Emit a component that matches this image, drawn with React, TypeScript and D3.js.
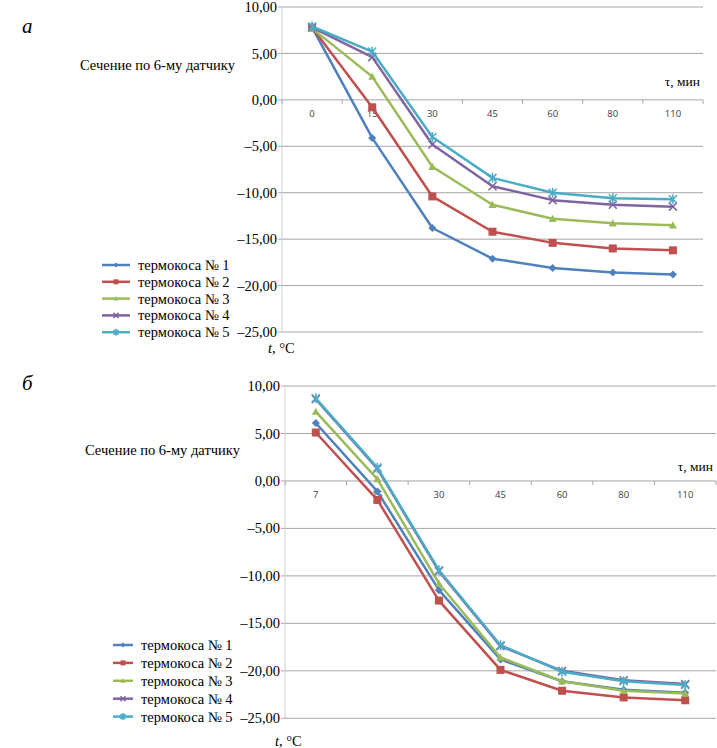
import React from "react";
import * as d3 from "d3";

const seriesNames = ["термокоса № 1", "термокоса № 2", "термокоса № 3", "термокоса № 4", "термокоса № 5"];
const colors = ["#4F81BD", "#C0504D", "#9BBB59", "#8064A2", "#4BACC6"];
const markers = ["diamond", "square", "triangle", "x", "star"];

const xLabelsA = ["0", "15", "30", "45", "60", "80", "110"];
const a1 = [7.8, -4.1, -13.8, -17.1, -18.1, -18.6, -18.8];
const a2 = [7.8, -0.8, -10.4, -14.2, -15.4, -16.0, -16.2];
const a3 = [7.7, 2.5, -7.2, -11.3, -12.8, -13.3, -13.5];
const a4 = [7.8, 4.6, -4.8, -9.3, -10.8, -11.3, -11.5];
const a5 = [7.9, 5.2, -4.0, -8.4, -10.0, -10.6, -10.7];

const xLabelsB = ["7", "15", "30", "45", "60", "80", "110"];
const b1 = [6.1, -1.1, -11.5, -18.8, -21.1, -22.0, -22.3];
const b2 = [5.1, -2.0, -12.6, -19.9, -22.1, -22.8, -23.1];
const b3 = [7.3, 0.2, -10.8, -18.6, -21.1, -22.1, -22.4];
const b4 = [8.6, 1.3, -9.5, -17.4, -20.0, -21.0, -21.4];
const b5 = [8.7, 1.4, -9.4, -17.3, -20.1, -21.1, -21.5];

const yTicks = [10, 5, 0, -5, -10, -15, -20, -25];

const fmt = (v: number) => (v < 0 ? "–" : "") + Math.abs(v).toFixed(2).replace(".", ",");

const serif = { fontFamily: "Liberation Serif, serif" };
const sans = { fontFamily: "Open Sans, Liberation Sans, sans-serif" };

function Marker({ type, x, y, color, s = 4 }: { type: string; x: number; y: number; color: string; s?: number }) {
  if (type === "diamond") {
    return <path d={`M${x},${y - s}L${x + s},${y}L${x},${y + s}L${x - s},${y}Z`} fill={color} />;
  }
  if (type === "square") {
    return <rect x={x - s} y={y - s} width={2 * s} height={2 * s} fill={color} />;
  }
  if (type === "triangle") {
    return <path d={`M${x},${y - s}L${x + s},${y + s * 0.8}L${x - s},${y + s * 0.8}Z`} fill={color} />;
  }
  if (type === "x") {
    return (
      <path d={`M${x - s},${y - s}L${x + s},${y + s}M${x + s},${y - s}L${x - s},${y + s}`} stroke={color} strokeWidth={1.5} fill="none" />
    );
  }
  return (
    <path
      d={`M${x - s},${y - s}L${x + s},${y + s}M${x + s},${y - s}L${x - s},${y + s}M${x},${y - s - 1}L${x},${y + s + 1}`}
      stroke={color}
      strokeWidth={1.5}
      fill="none"
    />
  );
}

type PanelProps = {
  letter: string;
  letterY: number;
  labels: string[];
  data: number[][];
  x0: number;
  x1: number;
  yTop: number;
  yBot: number;
  sectionY: number;
  sectionX: number;
  tauX: number;
  tauY: number;
  legendX: number;
  legendY: number;
  legendStep: number;
  legendLine: number;
  tX: number;
  tY: number;
};

function Panel(p: PanelProps) {
  const x = d3.scaleBand<string>().domain(p.labels).range([p.x0, p.x1]);
  const y = d3.scaleLinear().domain([-25, 10]).range([p.yBot, p.yTop]);
  const line = d3
    .line<number>()
    .x((_, i) => (x(p.labels[i]) as number) + x.bandwidth() / 2)
    .y((v) => y(v));
  const bounds = p.labels.map((l) => x(l) as number).concat([p.x1]);
  return (
    <g>
      <text x={22} y={p.letterY} style={{ ...serif, fontStyle: "italic", fontSize: 21 }} fill="#000">
        {p.letter}
      </text>
      <text x={p.sectionX} y={p.sectionY} style={{ ...serif, fontSize: 14.5 }} fill="#000">
        Сечение по 6-му датчику
      </text>
      {yTicks.map((t) => (
        <g key={t}>
          <line x1={p.x0 - 4} x2={p.x1} y1={y(t)} y2={y(t)} stroke="#a6a6a6" strokeWidth={1} />
          <text x={p.x0 - 5} y={y(t)} dy="0.35em" textAnchor="end" style={{ ...serif, fontSize: 14.5 }} fill="#000">
            {fmt(t)}
          </text>
        </g>
      ))}
      <line x1={p.x0} x2={p.x0} y1={p.yTop} y2={p.yBot} stroke="#d0d0d0" strokeWidth={1} />
      {bounds.map((b, i) => (
        <line key={i} x1={b} x2={b} y1={y(0)} y2={y(0) + 4} stroke="#a6a6a6" strokeWidth={1} />
      ))}
      {p.labels.map((l) => (
        <text
          key={l}
          x={(x(l) as number) + x.bandwidth() / 2}
          y={y(0) + 17}
          textAnchor="middle"
          style={{ ...sans, fontSize: 9.5 }}
          fill="#404040"
        >
          {l}
        </text>
      ))}
      <text x={p.tauX} y={p.tauY} textAnchor="end" style={{ ...serif, fontSize: 13.5 }} fill="#000">
        τ, мин
      </text>
      {p.data.map((s, si) => (
        <g key={si}>
          <path d={line(s) || ""} fill="none" stroke={colors[si]} strokeWidth={2.5} strokeLinejoin="round" />
          {s.map((v, i) => (
            <Marker
              key={i}
              type={markers[si]}
              x={(x(p.labels[i]) as number) + x.bandwidth() / 2}
              y={y(v)}
              color={colors[si]}
            />
          ))}
        </g>
      ))}
      {seriesNames.map((n, i) => {
        const ly = p.legendY + i * p.legendStep;
        return (
          <g key={n}>
            <line x1={p.legendX} x2={p.legendX + p.legendLine} y1={ly} y2={ly} stroke={colors[i]} strokeWidth={2.5} />
            <Marker type={markers[i]} x={p.legendX + p.legendLine / 2} y={ly} color={colors[i]} s={2.5} />
            <text x={p.legendX + p.legendLine + 8} y={ly} dy="0.35em" style={{ ...serif, fontSize: 14.5 }} fill="#000">
              {n}
            </text>
          </g>
        );
      })}
      <text x={p.tX} y={p.tY} dy="0.35em" style={{ ...serif, fontSize: 14.5 }} fill="#000">
        <tspan fontStyle="italic">t</tspan>, °C
      </text>
    </g>
  );
}

export default function App() {
  return (
    <svg width={717} height={748} style={{ position: "absolute", left: 0, top: 0, background: "#fff" }}>
      <rect width={717} height={748} fill="#fff" />
      <Panel
        letter="а"
        letterY={33}
        labels={xLabelsA}
        data={[a1, a2, a3, a4, a5]}
        x0={282}
        x1={703}
        yTop={7}
        yBot={332}
        sectionX={80}
        sectionY={70}
        tauX={700}
        tauY={86}
        legendX={102}
        legendY={265}
        legendStep={16.8}
        legendLine={28}
        tX={268}
        tY={348}
      />
      <Panel
        letter="б"
        letterY={390}
        labels={xLabelsB}
        data={[b1, b2, b3, b4, b5]}
        x0={285}
        x1={716}
        yTop={386}
        yBot={718.3}
        sectionX={85}
        sectionY={455}
        tauX={713}
        tauY={471}
        legendX={113}
        legendY={645}
        legendStep={17.9}
        legendLine={20}
        tX={275}
        tY={741}
      />
    </svg>
  );
}
